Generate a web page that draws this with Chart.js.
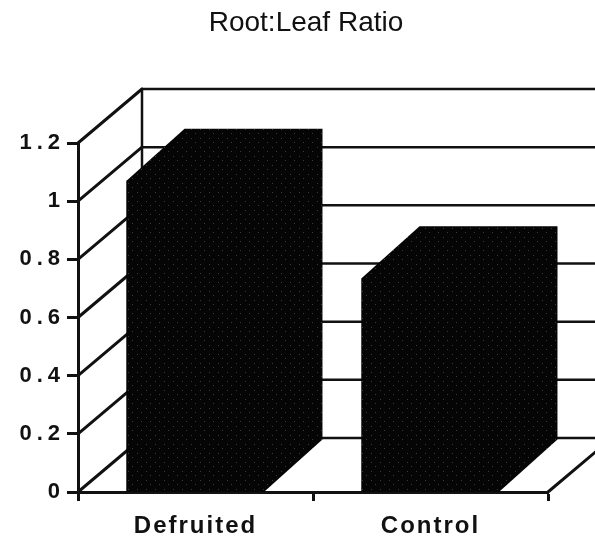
<!DOCTYPE html>
<html>
<head>
<meta charset="utf-8">
<script src="https://cdn.jsdelivr.net/npm/chart.js@4"></script>
<style>
  html, body { margin: 0; padding: 0; background: #fff; }
  #wrap { width: 595px; height: 539px; }
</style>
</head>
<body>
<div id="wrap"><canvas id="chart"></canvas></div>
<script>
// ===== DATA =====
const categories = ['Defruited', 'Control'];
const ratioValues = [1.07, 0.735];
const yTicks = [0, 0.2, 0.4, 0.6, 0.8, 1, 1.2];
const chartTitle = 'Root:Leaf Ratio';

// 3D look: offset of the back wall and of the bar depth (pixels)
const WALL_DX = 64, WALL_DY = -54;
const BAR_DX = 58, BAR_DY = -52;
const INK = '#111';
const FONT = '"Liberation Sans", Arial, sans-serif';

// speckled black fill, like the scanned bars
function speckle() {
  const c = document.createElement('canvas');
  c.width = 9; c.height = 9;
  const g = c.getContext('2d');
  g.fillStyle = '#050505';
  g.fillRect(0, 0, 9, 9);
  g.fillStyle = '#3a3a3a';
  g.fillRect(2, 3, 1, 1);
  g.fillRect(6, 7, 1, 1);
  return g.createPattern(c, 'repeat');
}

// wide letter spacing on the tick labels, as in the scan
function spaceLabels(scale, gap) {
  if (!scale || scale.__spaced) return;
  const orig = scale.drawLabels;
  scale.drawLabels = function (area) {
    this.ctx.save();
    this.ctx.letterSpacing = gap;
    orig.call(this, area);
    this.ctx.restore();
  };
  scale.__spaced = true;
}

const threeD = {
  id: 'threeD',
  beforeDraw(chart) {
    spaceLabels(chart.scales.x, '2px');
    spaceLabels(chart.scales.y, '5px');
  },
  beforeDatasetsDraw(chart) {
    const ctx = chart.ctx;
    const { left, right, top, bottom } = chart.chartArea;
    const ys = chart.scales.y;
    ctx.save();
    ctx.strokeStyle = INK;
    ctx.lineCap = 'round';
    yTicks.forEach(v => {
      const py = ys.getPixelForValue(v);
      ctx.lineWidth = 3;
      ctx.beginPath();
      ctx.moveTo(left, py);
      ctx.lineTo(left + WALL_DX, py + WALL_DY);
      ctx.stroke();
      ctx.lineWidth = 2.5;
      ctx.beginPath();
      ctx.moveTo(left + WALL_DX, py + WALL_DY);
      ctx.lineTo(right + WALL_DX, py + WALL_DY);
      ctx.stroke();
    });
    ctx.lineWidth = 2.5;
    ctx.beginPath();
    ctx.moveTo(left + WALL_DX, top + WALL_DY);
    ctx.lineTo(left + WALL_DX, bottom + WALL_DY);
    ctx.stroke();
    ctx.lineWidth = 3;
    ctx.beginPath();
    ctx.moveTo(right, bottom);
    ctx.lineTo(right + WALL_DX, bottom + WALL_DY);
    ctx.stroke();
    ctx.restore();
  },
  afterDatasetsDraw(chart) {
    const ctx = chart.ctx;
    ctx.save();
    ctx.fillStyle = speckle();
    chart.getDatasetMeta(0).data.forEach(bar => {
      const { x, y, base, width } = bar.getProps(['x', 'y', 'base', 'width'], true);
      const l = x - width / 2, r = x + width / 2;
      // whole block outline: front, top and side faces in one shape
      ctx.beginPath();
      ctx.moveTo(l, base);
      ctx.lineTo(l, y);
      ctx.lineTo(l + BAR_DX, y + BAR_DY);
      ctx.lineTo(r + BAR_DX, y + BAR_DY);
      ctx.lineTo(r + BAR_DX, base + BAR_DY);
      ctx.lineTo(r, base);
      ctx.closePath();
      ctx.fill();
    });
    ctx.restore();
  },
  afterDraw(chart) {
    const ctx = chart.ctx;
    ctx.save();
    ctx.fillStyle = INK;
    ctx.font = '28px ' + FONT;
    ctx.textAlign = 'center';
    ctx.textBaseline = 'middle';
    ctx.fillText(chartTitle, 306, 23);
    ctx.restore();
  }
};

new Chart(document.getElementById('chart'), {
  type: 'bar',
  data: {
    labels: categories,
    datasets: [{
      label: chartTitle,
      data: ratioValues,
      backgroundColor: speckle(),
      borderWidth: 0,
      categoryPercentage: 1,
      barPercentage: 0.587
    }]
  },
  options: {
    responsive: true,
    maintainAspectRatio: false,
    animation: false,
    layout: { padding: { top: 143, right: 47, bottom: 0, left: 0 } },
    plugins: {
      legend: { display: false },
      title: { display: false },
      tooltip: { enabled: false }
    },
    scales: {
      x: {
        afterFit: s => { s.height = 47; },
        grid: { drawOnChartArea: false, drawTicks: true, tickLength: 9, tickColor: INK, tickWidth: 3 },
        border: { display: true, color: INK, width: 3 },
        ticks: {
          color: INK, padding: 11,
          font: { family: FONT, size: 24, weight: 'bold' }
        }
      },
      y: {
        min: 0, max: 1.2,
        afterFit: s => { s.width = 78; },
        afterBuildTicks: s => { s.ticks = yTicks.map(v => ({ value: v })); },
        grid: { drawOnChartArea: false, drawTicks: true, tickLength: 11, tickColor: INK, tickWidth: 3 },
        border: { display: true, color: INK, width: 3 },
        ticks: {
          color: INK, padding: 2,
          font: { family: FONT, size: 22, weight: 'bold' },
          callback: v => String(+Number(v).toFixed(1))
        }
      }
    }
  },
  plugins: [threeD]
});
</script>
</body>
</html>
